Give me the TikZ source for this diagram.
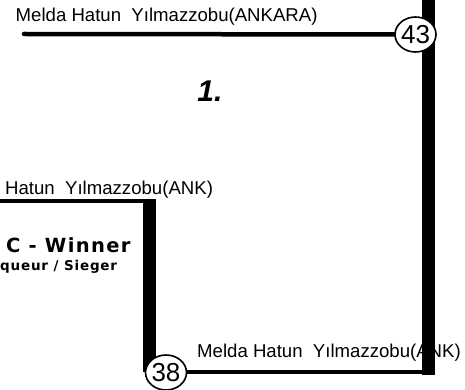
\documentclass[tikz,border=0pt]{standalone}
\usepackage{fontspec}
\setmainfont{Liberation Sans}
\newfontfamily\dvbold{DejaVu Sans Bold}[LetterSpace=7]
\newfontfamily\dvboldsmall{DejaVu Sans Bold}[LetterSpace=6]
\usetikzlibrary{shapes.geometric}
\pgfdeclareradialshading{numballshade}{\pgfpoint{-7bp}{7bp}}{%
  color(0bp)=(white); color(32bp)=(white); color(44bp)=(black!12);
  color(54bp)=(black!35); color(62bp)=(black!45); color(100bp)=(black!45)}
\begin{document}
\begin{tikzpicture}[x=1pt,y=-1pt,
  nametext/.style={anchor=base west,inner sep=0pt,font=\fontsize{18.6}{20}\selectfont},
  thinline/.style={line width=4.5pt,line cap=round},
  barline/.style={line width=12.5pt,line cap=butt},
  numball/.style={ellipse,draw=black,line width=1.6pt,minimum width=41pt,minimum height=35pt,inner sep=0pt,
    shading=numballshade,font=\fontsize{26}{26}\selectfont},
]
\useasboundingbox (0,0) rectangle (465,390);
% texts
\node[nametext] (t1) at (15.5,22) {Melda Hatun\ \ Yılmazzobu(ANKARA)};
\node[nametext] (t2) at (5,194.5) {Hatun\ \ Yılmazzobu(ANK)};
\node[nametext] (t3) at (197,357) {Melda Hatun\ \ Yılmazzobu(ANK)};
\node[anchor=base,inner sep=0pt,font=\fontsize{30}{30}\bfseries\itshape\selectfont] (place) at (210,102) {1.};
\node[anchor=base west,inner sep=0pt,font=\dvbold\fontsize{19.5}{20}\selectfont] (win) at (6,252) {C - Winner};
\node[anchor=base west,inner sep=0pt,font=\dvboldsmall\fontsize{13.5}{14}\selectfont] (sieg) at (0,270.5) {queur / Sieger};
% coordinates
\coordinate (tl) at (24,34);
\coordinate (rtop) at (428.5,0);
\coordinate (rbot) at (428.5,374.5);
\coordinate (ml) at (0,201);
\coordinate (mr) at (156,201);
\coordinate (mtop) at (149.5,199);
\coordinate (mbot) at (149.5,372);
\coordinate (br) at (434,372);
\coordinate (c43) at (415.5,34.5);
\coordinate (c38) at (166,372.5);
% lines
\draw[thinline] (tl) -- (c43);
\draw[barline] (rtop) -- (rbot);
\draw[line width=4pt] (ml) -- (mr);
\draw[barline] (mtop) -- (mbot);
\draw[line width=4.5pt] (mbot) -- (br);
% balls
\node[numball] (n43) at (c43) {43};
\node[numball] (n38) at (c38) {38};
\end{tikzpicture}
\end{document}
